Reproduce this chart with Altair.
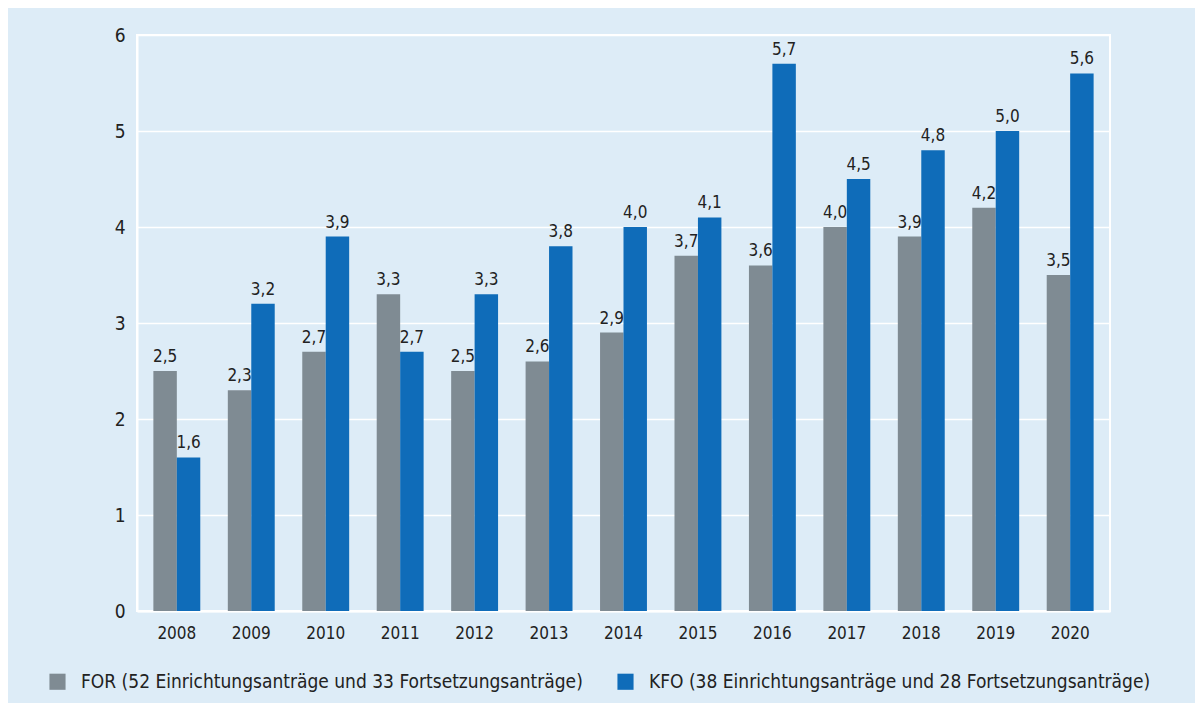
import altair as alt
import pandas as pd

years = ["2008", "2009", "2010", "2011", "2012", "2013", "2014", "2015", "2016", "2017", "2018", "2019", "2020"]
for_values = [2.5, 2.3, 2.7, 3.3, 2.5, 2.6, 2.9, 3.7, 3.6, 4.0, 3.9, 4.2, 3.5]
kfo_values = [1.6, 3.2, 3.9, 2.7, 3.3, 3.8, 4.0, 4.1, 5.7, 4.5, 4.8, 5.0, 5.6]
series_names = [
    "FOR (52 Einrichtungsanträge und 33 Fortsetzungsanträge)",
    "KFO (38 Einrichtungsanträge und 28 Fortsetzungsanträge)",
]
series_colors = ["#7f8b93", "#0f6cb9"]

rows = []
for y, v in zip(years, for_values):
    rows.append({"Jahr": y, "Serie": series_names[0], "Wert": v})
for y, v in zip(years, kfo_values):
    rows.append({"Jahr": y, "Serie": series_names[1], "Wert": v})
df = pd.DataFrame(rows)

FONT = "Liberation Sans Narrow, DejaVu Sans Condensed, Open Sans, sans-serif"

base = alt.Chart(df).encode(
    x=alt.X("Jahr:N", sort=years,
            scale=alt.Scale(paddingInner=0.37, paddingOuter=0.22),
            axis=alt.Axis(title=None, labelAngle=0, labelFontSize=17, labelPadding=14,
                          ticks=False, domain=True, domainColor="white", domainWidth=2,
                          labelColor="#222222", labelFont=FONT)),
    xOffset=alt.XOffset("Serie:N", sort=series_names, scale=alt.Scale(paddingInner=0, paddingOuter=0)),
    y=alt.Y("Wert:Q", scale=alt.Scale(domain=[0, 6], nice=False),
            axis=alt.Axis(title=None, values=[0, 1, 2, 3, 4, 5, 6], labelFontSize=19,
                          labelPadding=12, ticks=False, domain=True, domainColor="white",
                          domainWidth=2, grid=True, gridColor="white", gridWidth=1.5,
                          labelColor="#222222", labelFont=FONT)),
)

bars = base.mark_bar().encode(
    color=alt.Color("Serie:N", sort=series_names,
                    scale=alt.Scale(domain=series_names, range=series_colors),
                    legend=alt.Legend(title=None, orient="none", direction="horizontal",
                                      legendX=-89, legendY=637, symbolType="square",
                                      symbolSize=260, symbolStrokeWidth=0, symbolOpacity=1,
                                      labelFontSize=19, labelFont=FONT, labelColor="#222222",
                                      labelOffset=14, columnPadding=33, labelLimit=600))
)

labels = base.mark_text(baseline="bottom", dy=-5, fontSize=17, font=FONT, color="#222222").encode(
    text=alt.Text("label:N")
).transform_calculate(
    label="replace(format(datum.Wert, '.1f'), '.', ',')"
)

chart = alt.layer(bars, labels).properties(
    width=973, height=576,
    padding={"left": 129, "top": 27, "right": 85, "bottom": 92},
    autosize=alt.AutoSizeParams(type="none"),
    background="#ddecf7",
).configure_view(stroke="white", strokeWidth=2)

chart.save("out.html", embed_options={"renderer": "svg", "actions": False})
